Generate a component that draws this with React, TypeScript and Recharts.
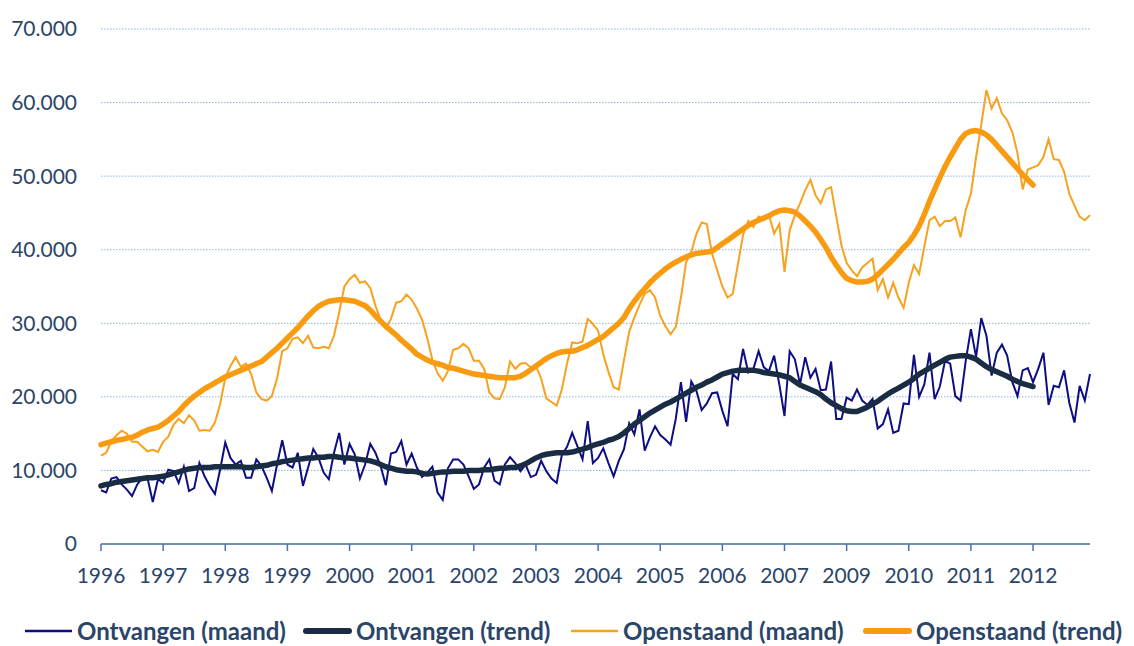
import React from 'react';
import { LineChart, Line, XAxis, YAxis, CartesianGrid, Legend } from 'recharts';

// x axis: one category per month, a tick every 12 months
const yearLabels = ['1996', '1997', '1998', '1999', '2000', '2001', '2002', '2003', '2004', '2005', '2006', '2007', '2009', '2010', '2011', '2012'];
const yearTickMonths = [0, 12, 24, 36, 48, 60, 72, 84, 96, 108, 120, 132, 144, 156, 168, 180];

// y axis (values in thousands)
const yTicks = [0, 10, 20, 30, 40, 50, 60, 70];

// Ontvangen (maand), thousands
const ontvangenMaand = [
  7.3, 7.0, 8.9, 9.1, 8.1, 7.4, 6.5, 8.1, 9.0, 8.9,
  5.7, 8.8, 8.3, 10.1, 9.9, 8.3, 10.5, 7.2, 7.6, 11.0,
  9.2, 7.9, 6.8, 10.1, 13.8, 11.7, 10.8, 11.3, 9.0, 9.0,
  11.5, 10.6, 9.0, 7.2, 10.8, 14.1, 10.8, 10.4, 12.4, 7.9,
  10.4, 12.9, 11.7, 9.7, 8.8, 12.4, 15.1, 10.8, 13.6, 12.2,
  8.9, 10.8, 13.6, 12.4, 10.6, 8.0, 12.3, 12.5, 14.0, 10.8,
  12.3, 10.4, 9.1, 9.7, 10.5, 7.0, 6.0, 10.3, 11.5, 11.5,
  10.8, 9.2, 7.5, 8.1, 10.4, 11.5, 8.6, 8.1, 10.8, 11.8,
  11.0, 9.9, 10.8, 9.1, 9.4, 11.3, 9.9, 8.9, 8.3, 12.1,
  13.2, 15.1, 13.3, 11.5, 16.7, 11.0, 11.7, 13.0, 11.0, 9.2,
  11.3, 12.9, 16.4, 14.9, 18.3, 12.7, 14.5, 16.0, 14.8, 14.2,
  13.5, 17.0, 22.0, 16.6, 22.1, 20.8, 18.2, 19.1, 20.5, 20.6,
  18.1, 16.0, 23.1, 22.4, 26.5, 23.3, 23.8, 26.2, 24.0, 23.5,
  25.6, 21.7, 17.4, 26.2, 25.1, 21.7, 25.4, 22.6, 23.8, 20.9,
  21.0, 24.8, 17.0, 17.0, 19.9, 19.5, 21.0, 19.5, 18.9, 19.7,
  15.7, 16.3, 18.3, 15.1, 15.4, 19.1, 19.0, 25.7, 20.0, 21.7,
  26.0, 19.7, 21.4, 24.9, 24.5, 20.1, 19.5, 24.9, 29.2, 25.4,
  30.7, 28.3, 22.9, 26.0, 27.1, 25.6, 22.0, 20.1, 23.6, 23.9,
  22.0, 23.8, 26.0, 18.9, 21.5, 21.3, 23.6, 19.2, 16.5, 21.5,
  19.5, 23.1,
];

// Ontvangen (trend), thousands
const ontvangenTrend = [
  7.9, 8.1, 8.2, 8.4, 8.5, 8.6, 8.7, 8.8, 8.9, 9.0,
  9.0, 9.1, 9.2, 9.4, 9.6, 9.8, 10.0, 10.2, 10.3, 10.4,
  10.4, 10.4, 10.5, 10.5, 10.5, 10.5, 10.5, 10.5, 10.4, 10.4,
  10.5, 10.6, 10.7, 10.9, 11.0, 11.2, 11.3, 11.4, 11.5, 11.6,
  11.7, 11.7, 11.8, 11.8, 11.9, 11.9, 11.8, 11.7, 11.7, 11.6,
  11.5, 11.4, 11.3, 11.1, 10.8, 10.5, 10.3, 10.1, 10.0, 9.9,
  9.9, 9.8, 9.6, 9.5, 9.6, 9.7, 9.8, 9.8, 9.9, 9.9,
  9.9, 10.0, 10.0, 10.0, 10.1, 10.1, 10.2, 10.3, 10.3, 10.4,
  10.4, 10.6, 10.9, 11.3, 11.7, 12.0, 12.2, 12.3, 12.4, 12.4,
  12.4, 12.5, 12.7, 12.9, 13.1, 13.4, 13.6, 13.8, 14.1, 14.3,
  14.6, 15.1, 15.7, 16.3, 16.8, 17.3, 17.8, 18.2, 18.6, 19.0,
  19.3, 19.7, 20.1, 20.5, 20.9, 21.3, 21.6, 22.0, 22.3, 22.7,
  23.1, 23.3, 23.5, 23.6, 23.6, 23.6, 23.6, 23.5, 23.3, 23.2,
  23.1, 23.0, 22.8, 22.6, 22.1, 21.6, 21.3, 21.0, 20.7, 20.3,
  19.7, 19.2, 18.8, 18.4, 18.1, 18.0, 18.0, 18.3, 18.6, 19.0,
  19.4, 19.9, 20.4, 20.8, 21.2, 21.6, 22.0, 22.5, 23.1, 23.5,
  23.9, 24.3, 24.7, 25.1, 25.4, 25.5, 25.6, 25.6, 25.4, 25.1,
  24.6, 24.1, 23.7, 23.4, 23.1, 22.8, 22.4, 22.1, 21.8, 21.6,
  21.4,
];

// Openstaand (maand), thousands
const openstaandMaand = [
  12.0, 12.4, 14.0, 14.8, 15.4, 15.0, 13.9, 13.9, 13.2, 12.6,
  12.8, 12.5, 13.9, 14.6, 16.2, 17.0, 16.4, 17.5, 16.8, 15.4,
  15.5, 15.4, 16.5, 19.0, 22.6, 24.2, 25.4, 24.1, 24.5, 23.1,
  20.6, 19.7, 19.5, 20.1, 22.5, 26.2, 26.6, 27.9, 28.1, 27.3,
  28.3, 26.7, 26.6, 26.8, 26.6, 28.3, 31.5, 35.0, 36.0, 36.6,
  35.5, 35.7, 34.8, 32.4, 30.5, 29.3, 30.6, 32.8, 33.0, 33.9,
  33.2, 32.0, 30.5, 28.0, 25.0, 23.2, 22.2, 23.5, 26.4, 26.6,
  27.2, 26.6, 24.9, 24.9, 23.8, 20.6, 19.8, 19.7, 21.3, 24.8,
  23.8, 24.5, 24.6, 24.0, 24.2, 22.5, 19.8, 19.3, 18.8, 21.0,
  24.5, 27.4, 27.3, 27.5, 30.6, 29.9, 29.0, 25.8, 23.4, 21.3,
  21.0, 25.0, 28.8, 30.8, 32.5, 34.0, 34.5, 33.5, 31.0, 29.6,
  28.5, 29.5, 33.5, 38.3, 39.7, 42.2, 43.7, 43.5, 39.5, 37.2,
  35.0, 33.5, 34.0, 38.0, 42.0, 43.9, 43.1, 44.5, 44.0, 44.7,
  42.2, 43.5, 37.0, 42.6, 44.7, 46.3, 48.1, 49.5, 47.4, 46.3,
  48.2, 48.5, 44.5, 40.6, 38.2, 37.2, 36.4, 37.6, 38.2, 38.8,
  34.5, 36.0, 33.5, 35.5, 33.5, 32.1, 35.5, 37.9, 36.7, 40.4,
  44.0, 44.5, 43.2, 43.9, 43.9, 44.4, 41.7, 45.4, 47.6, 52.6,
  57.0, 61.7, 59.2, 60.6, 58.5, 57.6, 56.0, 53.1, 48.2, 50.9,
  51.2, 51.5, 52.6, 55.0, 52.3, 52.2, 50.6, 47.6, 46.0, 44.5,
  44.0, 44.7,
];

// Openstaand (trend), thousands
const openstaandTrend = [
  13.5, 13.7, 13.9, 14.1, 14.2, 14.4, 14.5, 14.8, 15.2, 15.5,
  15.7, 15.9, 16.3, 16.8, 17.4, 18.0, 18.8, 19.5, 20.1, 20.6,
  21.1, 21.5, 21.9, 22.3, 22.7, 23.0, 23.3, 23.6, 23.9, 24.2,
  24.5, 24.8, 25.4, 26.0, 26.6, 27.3, 28.0, 28.7, 29.4, 30.2,
  31.0, 31.7, 32.3, 32.7, 33.0, 33.1, 33.2, 33.2, 33.1, 33.0,
  32.7, 32.4, 31.8, 31.0, 30.3, 29.6, 29.0, 28.4, 27.7, 27.1,
  26.5, 25.8, 25.4, 25.0, 24.7, 24.5, 24.3, 24.0, 23.9, 23.7,
  23.5, 23.3, 23.1, 23.0, 22.9, 22.8, 22.7, 22.6, 22.6, 22.6,
  22.6, 22.8, 23.2, 23.7, 24.2, 24.7, 25.2, 25.6, 25.9, 26.1,
  26.2, 26.2, 26.4, 26.7, 27.0, 27.4, 27.8, 28.2, 28.8, 29.4,
  30.0, 30.8, 32.0, 33.0, 33.9, 34.7, 35.5, 36.2, 36.8, 37.4,
  37.9, 38.3, 38.7, 39.0, 39.3, 39.5, 39.6, 39.7, 39.8, 40.3,
  40.8, 41.3, 41.8, 42.3, 42.8, 43.3, 43.7, 44.0, 44.3, 44.6,
  45.0, 45.3, 45.4, 45.3, 45.1, 44.6, 43.9, 43.2, 42.4, 41.4,
  40.3, 39.0, 37.9, 36.9, 36.1, 35.8, 35.6, 35.6, 35.7, 36.0,
  36.6, 37.3, 38.0, 38.7, 39.5, 40.3, 41.0, 42.0, 43.2, 44.8,
  46.6, 48.2, 49.8, 51.3, 52.6, 53.8, 55.0, 55.8, 56.1, 56.2,
  56.0, 55.6, 55.0, 54.2, 53.4, 52.6, 51.8, 51.0, 50.2, 49.5,
  48.8,
];

const seriesNames = ['Ontvangen (maand)', 'Ontvangen (trend)', 'Openstaand (maand)', 'Openstaand (trend)'];

const data = ontvangenMaand.map((v, i) => ({
  m: i,
  om: v,
  ot: ontvangenTrend[i],
  pm: openstaandMaand[i],
  pt: openstaandTrend[i],
}));

const TEXT = '#2B4569';
const BLUE_M = '#0E0E82';
const BLUE_T = '#1A2C44';
const ORANGE_M = '#F7A21E';
const ORANGE_T = '#F89B10';

const legendItems = [
  { label: seriesNames[0], color: BLUE_M, w: 2.4, left: 23 },
  { label: seriesNames[1], color: BLUE_T, w: 6, left: 302 },
  { label: seriesNames[2], color: ORANGE_M, w: 2.4, left: 569 },
  { label: seriesNames[3], color: ORANGE_T, w: 6, left: 862 },
];

function LegendContent() {
  return (
    <div style={{ position: 'relative', width: 1134, height: 26 }}>
      {legendItems.map((it) => (
        <div
          key={it.label}
          style={{ position: 'absolute', left: it.left, top: 0, height: 26, display: 'flex', alignItems: 'center' }}
        >
          <svg width={50} height={26} style={{ display: 'block' }}>
            <line
              x1={it.w > 3 ? 4 : 2}
              x2={it.w > 3 ? 47 : 49}
              y1={13}
              y2={13}
              stroke={it.color}
              strokeWidth={it.w}
              strokeLinecap={it.w > 3 ? 'round' : 'butt'}
            />
          </svg>
          <span
            style={{
              marginLeft: 4,
              fontFamily: 'Lato, sans-serif',
              fontWeight: 700,
              fontSize: 24,
              color: TEXT,
              whiteSpace: 'nowrap',
              lineHeight: '26px',
            }}
          >
            {it.label}
          </span>
        </div>
      ))}
    </div>
  );
}

export default function App() {
  return (
    <div style={{ position: 'absolute', left: 0, top: 0, width: 1134, height: 646, background: '#ffffff' }}>
      <LineChart
        width={1134}
        height={646}
        data={data}
        margin={{ top: 29, right: 44, bottom: 46, left: 0 }}
      >
        <CartesianGrid vertical={false} stroke="#8DB3E2" strokeDasharray="1.5 1.5" strokeWidth={1} />
        <XAxis
          dataKey="m"
          type="number"
          domain={[0, 191]}
          ticks={yearTickMonths}
          interval={0}
          tickFormatter={(v: number) => yearLabels[yearTickMonths.indexOf(v)]}
          axisLine={{ stroke: '#4E72A5', strokeWidth: 1.5 }}
          tickLine={{ stroke: '#4E72A5', strokeWidth: 1.5 }}
          tickSize={7}
          tickMargin={17}
          height={30}
          tick={{ fill: TEXT, fontSize: 21, fontFamily: 'Lato, sans-serif' }}
        />
        <YAxis
          type="number"
          domain={[0, 70]}
          ticks={yTicks}
          interval={0}
          tickFormatter={(v: number) => (v === 0 ? '0' : `${v}.000`)}
          axisLine={false}
          tickLine={false}
          tickSize={0}
          tickMargin={24}
          width={101}
          tick={{ fill: TEXT, fontSize: 21, fontFamily: 'Lato, sans-serif' }}
        />
        <Legend
          verticalAlign="bottom"
          content={() => <LegendContent />}
          wrapperStyle={{ left: 0, top: 618, bottom: 'auto', width: 1134 }}
        />
        <Line
          type="linear"
          dataKey="om"
          name={seriesNames[0]}
          stroke={BLUE_M}
          strokeWidth={2}
          dot={false}
          activeDot={false}
          isAnimationActive={false}
        />
        <Line
          type="linear"
          dataKey="ot"
          name={seriesNames[1]}
          stroke={BLUE_T}
          strokeWidth={5.5}
          strokeLinecap="round"
          strokeLinejoin="round"
          dot={false}
          activeDot={false}
          isAnimationActive={false}
        />
        <Line
          type="linear"
          dataKey="pm"
          name={seriesNames[2]}
          stroke={ORANGE_M}
          strokeWidth={2}
          dot={false}
          activeDot={false}
          isAnimationActive={false}
        />
        <Line
          type="linear"
          dataKey="pt"
          name={seriesNames[3]}
          stroke={ORANGE_T}
          strokeWidth={5.5}
          strokeLinecap="round"
          strokeLinejoin="round"
          dot={false}
          activeDot={false}
          isAnimationActive={false}
        />
      </LineChart>
    </div>
  );
}
